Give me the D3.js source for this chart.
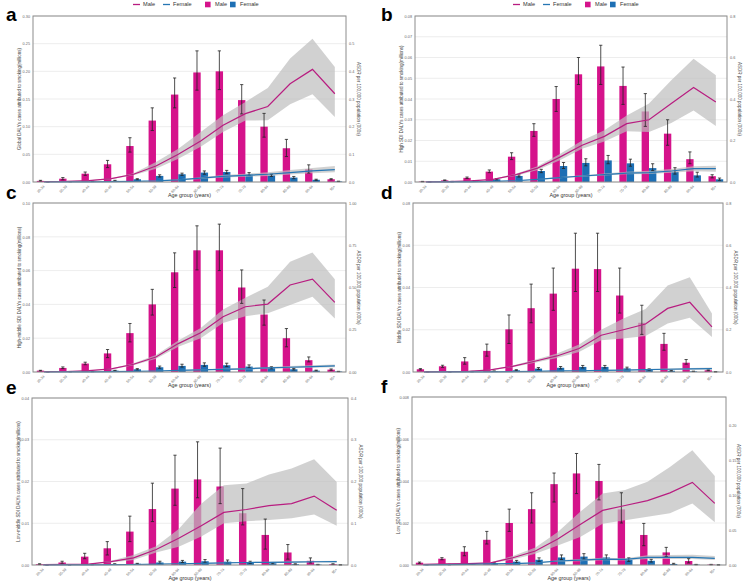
<!DOCTYPE html>
<html>
<head>
<meta charset="utf-8">
<title>Smoking DALYs by age</title>
<script src="https://d3js.org/d3.v7.min.js"></script>
<style>
  body { margin: 0; background: #fff; }
  svg { display: block; font-family: "Liberation Sans", Arial, sans-serif; }
</style>
</head>
<body>
<svg id="chart" width="750" height="588"></svg>
<script>
// age groups on the x axis
const ageGroups = ["30-34","35-39","40-44","45-49","50-54","55-59","60-64","65-69","70-74","75-79","80-84","85-89","90-94","95+"];

const panelLetters = ["a","b","c","d","e","f"];
const leftTitles = [
  "Global DALYs cases attributed to smoking(millions)",
  "High SDI DALYs cases attributed to smoking(millions)",
  "High-middle SDI DALYs cases attributed to smoking(millions)",
  "Middle SDI DALYs cases attributed to smoking(millions)",
  "Low-middle SDI DALYs cases attributed to smoking(millions)",
  "Low SDI DALYs cases attributed to smoking(millions)"
];
const rightTitle = "ASDR per 100,000 population (000s)";

// axis ranges + tick labels
const leftMax = [0.30, 0.08, 0.10, 0.08, 0.04, 0.008];
const leftTicks = [
  [0,0.05,0.10,0.15,0.20,0.25,0.30],
  [0,0.01,0.02,0.03,0.04,0.05,0.06,0.07,0.08],
  [0,0.02,0.04,0.06,0.08,0.10],
  [0,0.02,0.04,0.06,0.08],
  [0,0.01,0.02,0.03,0.04],
  [0,0.002,0.004,0.006,0.008]
];
const leftFmt = [".2f",".2f",".2f",".2f",".2f",".3f"];
const rightMax = [0.6, 0.8, 1.0, 0.8, 0.4, 0.24];
const rightTicks = [
  [0,0.1,0.2,0.3,0.4,0.5],
  [0,0.2,0.4,0.6,0.8],
  [0,0.25,0.5,0.75,1.0],
  [0,0.2,0.4,0.6,0.8],
  [0,0.1,0.2,0.3,0.4],
  [0,0.05,0.10,0.15,0.20]
];
const rightFmt = [".1f",".1f",".2f",".1f",".1f",".2f"];

// DALY cases (bars), millions
const maleCases = [
  [0.002,0.006,0.015,0.032,0.065,0.111,0.158,0.198,0.200,0.148,0.100,0.061,0.023,0.005],
  [0.0002,0.0008,0.002,0.005,0.0122,0.0246,0.040,0.0519,0.0557,0.0463,0.034,0.0233,0.011,0.0028],
  [0.0008,0.0024,0.005,0.011,0.023,0.040,0.059,0.072,0.072,0.050,0.034,0.020,0.007,0.0014],
  [0.0013,0.0027,0.005,0.010,0.0202,0.0302,0.0371,0.0489,0.0487,0.0362,0.0233,0.0133,0.0044,0.0008],
  [0.0002,0.0006,0.002,0.004,0.008,0.0134,0.0183,0.0205,0.0188,0.0124,0.0072,0.003,0.001,0.0002],
  [0.00011,0.0003,0.00063,0.0012,0.002,0.00266,0.00385,0.00436,0.004,0.00265,0.00143,0.0006,0.00019,0.00002]
];
const maleCasesLo = [
  [0.0015,0.004,0.012,0.026,0.054,0.093,0.134,0.166,0.167,0.123,0.081,0.046,0.016,0.004],
  [0.0001,0.0006,0.0017,0.0045,0.0108,0.022,0.034,0.047,0.047,0.0374,0.0268,0.0177,0.0088,0.002],
  [0.0006,0.002,0.0043,0.0085,0.0178,0.0337,0.050,0.0604,0.060,0.0406,0.0277,0.0149,0.006,0.001],
  [0.001,0.0022,0.0037,0.0075,0.0135,0.0233,0.0292,0.0381,0.0381,0.0279,0.0178,0.0103,0.0037,0.0006],
  [0.0001,0.0004,0.0015,0.0024,0.0056,0.0104,0.0143,0.0161,0.0147,0.0096,0.0038,0.0014,0.0005,0.0001],
  [0.00008,0.00025,0.00044,0.001,0.0016,0.002,0.003,0.0034,0.0031,0.002,0.00092,0.0004,0.0001,0.00001]
];
const maleCasesHi = [
  [0.003,0.008,0.018,0.039,0.080,0.134,0.188,0.237,0.237,0.176,0.124,0.077,0.031,0.006],
  [0.0003,0.001,0.0024,0.0058,0.0141,0.0281,0.046,0.060,0.0659,0.0554,0.0426,0.030,0.0145,0.0035],
  [0.001,0.003,0.0058,0.0133,0.0287,0.0489,0.0705,0.0865,0.0875,0.0604,0.0426,0.0257,0.0089,0.0018],
  [0.0016,0.0032,0.0068,0.0132,0.027,0.0416,0.0492,0.0657,0.0657,0.0492,0.0316,0.0183,0.0059,0.001],
  [0.0003,0.0009,0.0028,0.0056,0.0117,0.0196,0.0263,0.0295,0.028,0.0183,0.011,0.0049,0.0017,0.0003],
  [0.00014,0.00035,0.00087,0.0016,0.00266,0.00344,0.00438,0.00531,0.00479,0.00344,0.00198,0.00084,0.0003,0.00003]
];
const femaleCases = [
  [0.0003,0.0006,0.001,0.002,0.005,0.011,0.014,0.017,0.018,0.014,0.012,0.008,0.004,0.001],
  [0.0001,0.0002,0.0005,0.0013,0.0029,0.0053,0.0077,0.0092,0.0104,0.009,0.0067,0.005,0.0032,0.0013],
  [0.0001,0.0002,0.0003,0.0008,0.0016,0.0028,0.0036,0.0042,0.004,0.0032,0.0024,0.0016,0.0008,0.0003],
  [0.0001,0.0001,0.0002,0.0004,0.0008,0.0016,0.002,0.0024,0.0024,0.0017,0.0011,0.0006,0.0003,0.0001],
  [0.00002,0.00005,0.0001,0.0002,0.0003,0.0006,0.0008,0.0009,0.0008,0.0006,0.0004,0.0002,0.0001,0.00003],
  [0.00001,0.00002,0.00004,0.00008,0.00016,0.00025,0.00036,0.0004,0.00036,0.00025,0.0002,0.00005,0.00002,0.000005]
];
const femaleCasesLo = [
  [0.0002,0.0004,0.0008,0.0015,0.004,0.009,0.012,0.014,0.015,0.012,0.010,0.006,0.003,0.0008],
  [0.00005,0.0001,0.0003,0.001,0.0024,0.0045,0.0065,0.0078,0.0088,0.0076,0.0055,0.0038,0.0024,0.0008],
  [0.00005,0.0001,0.0002,0.0006,0.0012,0.0022,0.0029,0.0034,0.0032,0.0025,0.0019,0.0012,0.0006,0.0002],
  [0.00005,0.00005,0.0001,0.0003,0.0006,0.0012,0.0015,0.0019,0.0019,0.0013,0.0008,0.0004,0.0002,0.00005],
  [0.00001,0.00003,0.00007,0.00015,0.0002,0.0004,0.0006,0.0006,0.0005,0.0004,0.0003,0.0001,0.00005,0.00002],
  [0.00001,0.00001,0.00003,0.00005,0.00011,0.00017,0.00026,0.00028,0.00026,0.00017,0.00014,0.00003,0.00001,0.000003]
];
const femaleCasesHi = [
  [0.0004,0.0008,0.0013,0.003,0.006,0.013,0.016,0.020,0.021,0.017,0.014,0.010,0.005,0.0015],
  [0.00015,0.0003,0.0007,0.0016,0.0034,0.0061,0.0094,0.0112,0.0128,0.011,0.0088,0.0069,0.0047,0.0019],
  [0.00015,0.0003,0.0004,0.001,0.002,0.0035,0.0046,0.0054,0.0052,0.0042,0.0031,0.0021,0.0011,0.0004],
  [0.00015,0.00015,0.0003,0.0005,0.0011,0.0021,0.0026,0.0031,0.0031,0.0023,0.0015,0.0008,0.0004,0.00015],
  [0.00003,0.00008,0.00014,0.0003,0.0004,0.0009,0.0011,0.0013,0.0012,0.0009,0.0006,0.0003,0.00015,0.00005],
  [0.00002,0.00003,0.00006,0.00011,0.00022,0.00034,0.00048,0.00054,0.00048,0.00034,0.00027,0.00008,0.00003,0.00001]
];

// ASDR lines with uncertainty bands
const maleAsdr = [
  [0.001,0.002,0.005,0.012,0.028,0.058,0.100,0.148,0.205,0.247,0.273,0.355,0.407,0.319],
  [0.0005,0.002,0.005,0.013,0.034,0.067,0.12,0.177,0.22,0.281,0.30,0.378,0.455,0.386],
  [0.002,0.003,0.008,0.018,0.046,0.089,0.168,0.232,0.327,0.386,0.402,0.515,0.55,0.412],
  [0.001,0.002,0.003,0.01,0.027,0.051,0.076,0.111,0.174,0.2,0.227,0.301,0.33,0.214],
  [0.001,0.0015,0.002,0.008,0.017,0.037,0.064,0.094,0.126,0.133,0.142,0.147,0.165,0.131],
  [0.001,0.0015,0.002,0.003,0.0104,0.02,0.037,0.058,0.078,0.085,0.092,0.103,0.118,0.088]
];
const maleAsdrLo = [
  [0.0008,0.0015,0.004,0.010,0.024,0.048,0.084,0.127,0.181,0.222,0.223,0.281,0.317,0.235],
  [0.0004,0.0016,0.004,0.011,0.029,0.058,0.105,0.16,0.195,0.245,0.241,0.284,0.345,0.27],
  [0.0015,0.0025,0.007,0.015,0.04,0.078,0.15,0.2,0.29,0.33,0.347,0.396,0.446,0.317],
  [0.0008,0.0015,0.0025,0.008,0.023,0.044,0.066,0.095,0.15,0.158,0.171,0.23,0.257,0.166],
  [0.0008,0.0012,0.0015,0.006,0.012,0.03,0.044,0.068,0.1,0.105,0.108,0.112,0.121,0.094],
  [0.0008,0.0012,0.0015,0.0025,0.008,0.016,0.028,0.04,0.059,0.064,0.069,0.074,0.088,0.061]
];
const maleAsdrHi = [
  [0.0012,0.0025,0.006,0.014,0.032,0.072,0.120,0.181,0.241,0.289,0.340,0.446,0.518,0.416],
  [0.0006,0.0024,0.006,0.015,0.039,0.076,0.135,0.2,0.25,0.32,0.378,0.49,0.594,0.514],
  [0.0025,0.0035,0.009,0.021,0.052,0.1,0.186,0.26,0.37,0.44,0.505,0.653,0.707,0.549],
  [0.0012,0.0025,0.0035,0.012,0.031,0.058,0.087,0.13,0.2,0.253,0.298,0.409,0.448,0.277],
  [0.0012,0.0018,0.0025,0.01,0.024,0.045,0.086,0.147,0.191,0.195,0.217,0.231,0.253,0.199],
  [0.0012,0.0018,0.0025,0.0035,0.013,0.025,0.047,0.076,0.102,0.107,0.119,0.14,0.164,0.127]
];
const femaleAsdr = [
  [0,0.0002,0.0005,0.001,0.002,0.004,0.008,0.014,0.020,0.024,0.028,0.034,0.040,0.045],
  [0,0.0003,0.001,0.003,0.006,0.013,0.021,0.029,0.036,0.043,0.045,0.053,0.064,0.064],
  [0,0.0005,0.001,0.002,0.004,0.006,0.01,0.013,0.016,0.019,0.024,0.028,0.032,0.036],
  [0,0.0003,0.0006,0.001,0.002,0.003,0.005,0.006,0.008,0.009,0.011,0.013,0.015,0.016],
  [0,0.0002,0.0004,0.0008,0.0012,0.002,0.003,0.004,0.005,0.006,0.0065,0.007,0.0078,0.008],
  [0,0.0005,0.001,0.0015,0.002,0.003,0.0057,0.007,0.0085,0.008,0.011,0.011,0.011,0.0095]
];
const femaleAsdrLo = [
  [0,0.0001,0.0004,0.0008,0.0016,0.003,0.006,0.011,0.016,0.019,0.022,0.027,0.032,0.035],
  [0,0.0002,0.0008,0.0025,0.005,0.011,0.018,0.025,0.031,0.037,0.038,0.044,0.052,0.05],
  [0,0.0004,0.0008,0.0016,0.003,0.005,0.008,0.011,0.013,0.015,0.019,0.022,0.025,0.028],
  [0,0.0002,0.0005,0.0008,0.0016,0.0024,0.004,0.005,0.0065,0.007,0.0085,0.01,0.011,0.012],
  [0,0.0001,0.0003,0.0006,0.001,0.0016,0.0024,0.0032,0.004,0.0048,0.005,0.0054,0.006,0.006],
  [0,0.0004,0.0008,0.0012,0.0016,0.0024,0.0045,0.0055,0.0068,0.0064,0.0085,0.0085,0.0085,0.0072]
];
const femaleAsdrHi = [
  [0,0.0003,0.0007,0.0013,0.0025,0.005,0.010,0.017,0.025,0.030,0.035,0.043,0.051,0.058],
  [0,0.0004,0.0012,0.0035,0.007,0.015,0.024,0.033,0.041,0.05,0.054,0.063,0.076,0.078],
  [0,0.0006,0.0012,0.0025,0.005,0.007,0.012,0.016,0.02,0.024,0.03,0.035,0.04,0.045],
  [0,0.0004,0.0008,0.0012,0.0025,0.0036,0.006,0.0072,0.0096,0.011,0.0135,0.016,0.019,0.021],
  [0,0.0003,0.0005,0.001,0.0015,0.0025,0.0037,0.005,0.0062,0.0074,0.008,0.0088,0.0098,0.0102],
  [0,0.0006,0.0012,0.0018,0.0024,0.0036,0.0069,0.0085,0.0102,0.0098,0.0138,0.0142,0.0146,0.0128]
];

// plot rectangles [x0, y0, x1, y1]
const boxes = [
  [33, 16, 346, 182],
  [415, 16, 727, 182],
  [33, 203, 346, 372],
  [413, 203, 723, 372],
  [32, 398, 348, 565],
  [412, 397, 726, 565]
];

const MAG = "#d5138b", MAG_LINE = "#b81d80";
const BLU = "#1d6fb4", BLU_LINE = "#2676b3";

const svg = d3.select("#chart");

boxes.forEach(function(b, p) {
  const g = svg.append("g");
  const x = d3.scaleBand().domain(ageGroups).range([b[0], b[2]]);
  const cx = d => x(d) + x.bandwidth() / 2;
  const bw = x.bandwidth() * 0.33;
  const yL = d3.scaleLinear().domain([0, leftMax[p]]).range([b[3], b[1]]);
  const yR = d3.scaleLinear().domain([0, rightMax[p]]).range([b[3], b[1]]);

  // grid
  g.selectAll(".grid").data(leftTicks[p]).join("line")
    .attr("x1", b[0]).attr("x2", b[2])
    .attr("y1", d => yL(d)).attr("y2", d => yL(d))
    .attr("stroke", "#e8e8e8").attr("stroke-width", 0.8);

  // bars
  g.selectAll(".mbar").data(ageGroups).join("rect")
    .attr("x", d => cx(d) - bw).attr("width", bw)
    .attr("y", (d, i) => yL(maleCases[p][i]))
    .attr("height", (d, i) => b[3] - yL(maleCases[p][i]))
    .attr("fill", MAG);
  g.selectAll(".fbar").data(ageGroups).join("rect")
    .attr("x", d => cx(d)).attr("width", bw)
    .attr("y", (d, i) => yL(femaleCases[p][i]))
    .attr("height", (d, i) => b[3] - yL(femaleCases[p][i]))
    .attr("fill", BLU);

  // uncertainty bands
  const band = (lo, hi) => d3.area()
    .x((d, i) => cx(ageGroups[i]))
    .y0((d, i) => yR(lo[i])).y1((d, i) => yR(hi[i]));
  g.append("path").attr("d", band(maleAsdrLo[p], maleAsdrHi[p])(ageGroups))
    .attr("fill", "#bdbdbd").attr("opacity", 0.7);
  g.append("path").attr("d", band(femaleAsdrLo[p], femaleAsdrHi[p])(ageGroups))
    .attr("fill", "#bdbdbd").attr("opacity", 0.7);

  // error bars
  function errs(lo, hi, off) {
    ageGroups.forEach(function(a, i) {
      const xx = cx(a) + off;
      g.append("line").attr("x1", xx).attr("x2", xx)
        .attr("y1", yL(lo[i])).attr("y2", yL(hi[i]))
        .attr("stroke", "#222").attr("stroke-width", 0.8);
      [lo[i], hi[i]].forEach(function(v) {
        g.append("line").attr("x1", xx - 1.6).attr("x2", xx + 1.6)
          .attr("y1", yL(v)).attr("y2", yL(v))
          .attr("stroke", "#222").attr("stroke-width", 0.8);
      });
    });
  }
  errs(maleCasesLo[p], maleCasesHi[p], -bw / 2);
  errs(femaleCasesLo[p], femaleCasesHi[p], bw / 2);

  // lines
  const line = vals => d3.line().x((d, i) => cx(ageGroups[i])).y((d, i) => yR(vals[i]))(ageGroups);
  g.append("path").attr("d", line(maleAsdr[p])).attr("fill", "none")
    .attr("stroke", MAG_LINE).attr("stroke-width", 1.2);
  g.append("path").attr("d", line(femaleAsdr[p])).attr("fill", "none")
    .attr("stroke", BLU_LINE).attr("stroke-width", 1.2);

  // frame
  g.append("rect").attr("x", b[0]).attr("y", b[1])
    .attr("width", b[2] - b[0]).attr("height", b[3] - b[1])
    .attr("fill", "none").attr("stroke", "#8c8c8c").attr("stroke-width", 1);

  // axes
  const la = g.append("g").attr("transform", "translate(" + b[0] + ",0)")
    .call(d3.axisLeft(yL).tickValues(leftTicks[p]).tickFormat(d3.format(leftFmt[p])).tickSize(0).tickPadding(3));
  const ra = g.append("g").attr("transform", "translate(" + b[2] + ",0)")
    .call(d3.axisRight(yR).tickValues(rightTicks[p]).tickFormat(d3.format(rightFmt[p])).tickSize(0).tickPadding(3));
  [la, ra].forEach(function(a) {
    a.select(".domain").remove();
    a.selectAll("text").attr("font-size", 3.8).attr("fill", "#666").attr("font-family", "Liberation Sans, Arial");
  });

  // x labels
  g.selectAll(".xl").data(ageGroups).join("text")
    .attr("transform", d => "translate(" + cx(d) + "," + (b[3] + 4) + ") rotate(-45)")
    .attr("text-anchor", "end").attr("dy", "0.3em")
    .attr("font-size", 3.6).attr("fill", "#666").text(d => d);

  g.append("text").attr("x", (b[0] + b[2]) / 2).attr("y", b[3] + 15)
    .attr("text-anchor", "middle").attr("font-size", 5.4).attr("fill", "#333")
    .text("Age group (years)");

  g.append("text")
    .attr("transform", "translate(" + (b[0] - 12) + "," + ((b[1] + b[3]) / 2) + ") rotate(-90)")
    .attr("text-anchor", "middle").attr("font-size", 4.5).attr("fill", "#444")
    .text(leftTitles[p]);
  g.append("text")
    .attr("transform", "translate(" + (b[2] + 11) + "," + ((b[1] + b[3]) / 2) + ") rotate(90)")
    .attr("text-anchor", "middle").attr("font-size", 4.5).attr("fill", "#444")
    .text(rightTitle);

  // panel letter
  const col = p % 2;
  g.append("text").attr("x", col ? 381 : 6).attr("y", b[1] + (p < 2 ? 5 : -4))
    .attr("font-size", 19).attr("font-weight", "bold").attr("fill", "#000")
    .text(panelLetters[p]);

  // legend on top row
  if (p < 2) {
    const lg = g.append("g").attr("transform", "translate(" + (col ? 513 : 133) + ",4.5)");
    const items = [
      {t: "line", c: MAG_LINE, label: "Male", x: 0},
      {t: "line", c: BLU_LINE, label: "Female", x: 30},
      {t: "rect", c: MAG, label: "Male", x: 72},
      {t: "rect", c: BLU, label: "Female", x: 97}
    ];
    items.forEach(function(it) {
      if (it.t === "line") {
        lg.append("line").attr("x1", it.x).attr("x2", it.x + 7).attr("y1", 0).attr("y2", 0)
          .attr("stroke", it.c).attr("stroke-width", 1.3);
      } else {
        lg.append("rect").attr("x", it.x).attr("y", -2.8).attr("width", 5.6).attr("height", 5.6).attr("fill", it.c);
      }
      lg.append("text").attr("x", it.x + 10).attr("y", 0).attr("dy", "0.35em")
        .attr("font-size", 5.6).attr("fill", "#333").text(it.label);
    });
  }
});
</script>
</body>
</html>
